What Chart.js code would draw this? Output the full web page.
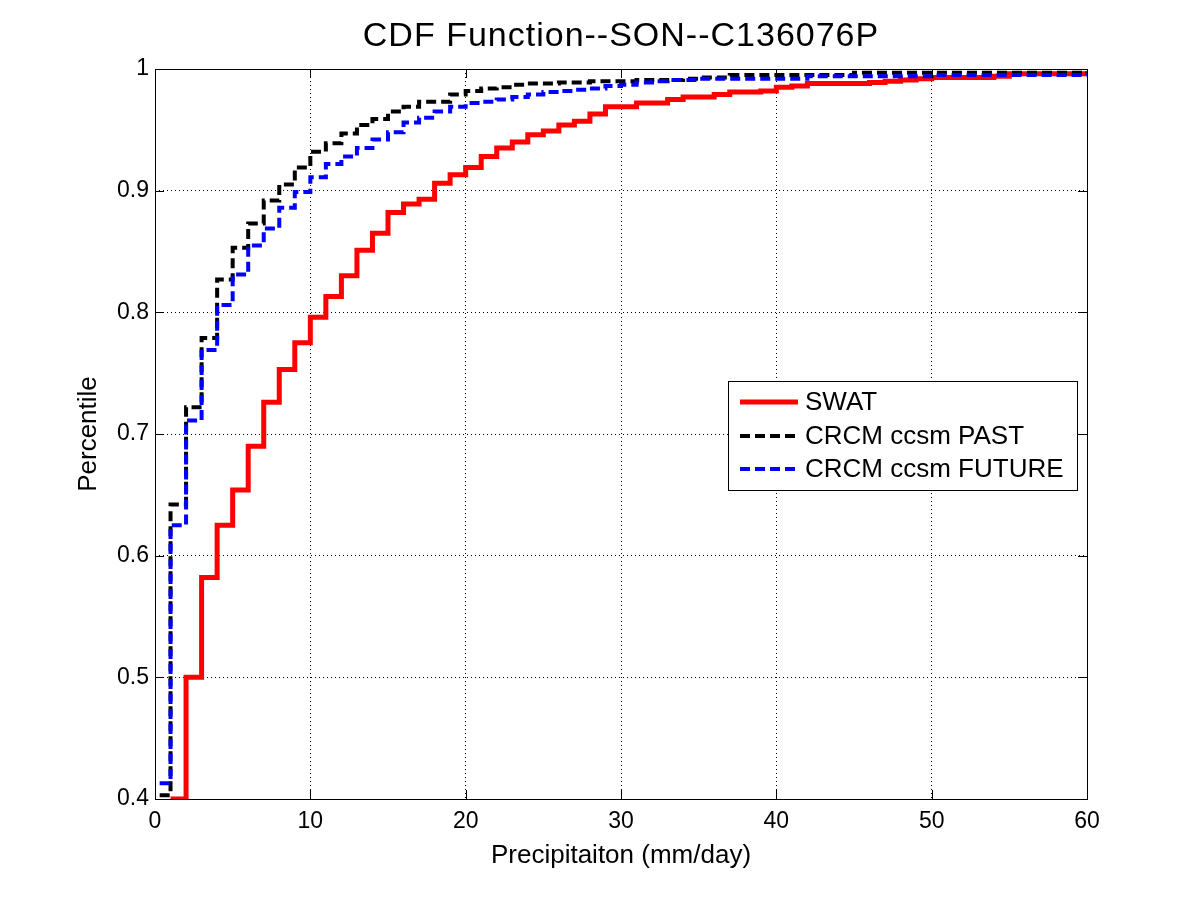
<!DOCTYPE html>
<html>
<head>
<meta charset="utf-8">
<title>CDF Function--SON--C136076P</title>
<script src="https://cdn.jsdelivr.net/npm/chart.js@4.4.0/dist/chart.umd.min.js"></script>
<style>
	html, body { margin: 0; padding: 0; background: #fff; }
	canvas { display: block; }
</style>
</head>
<body>
<canvas id="cdfChart" width="1200" height="900"></canvas>
<script>
// step values, each point = value from that x onward
var swatX = [1, 2, 3, 4, 5, 6, 7, 8, 9, 10, 11, 12, 13, 14, 15, 16, 17, 18, 19, 20, 21, 22, 23, 24, 25, 26, 27, 28, 29, 31, 33, 34, 36, 37, 39, 40, 41, 42, 46, 47, 48, 49, 50, 54, 55, 60];
var swatY = [0.400, 0.500, 0.582, 0.625, 0.654, 0.690, 0.726, 0.753, 0.775, 0.796, 0.813, 0.830, 0.851, 0.865, 0.882, 0.889, 0.893, 0.906, 0.913, 0.919, 0.928, 0.935, 0.940, 0.946, 0.949, 0.954, 0.957, 0.963, 0.969, 0.972, 0.975, 0.977, 0.979, 0.981, 0.982, 0.985, 0.986, 0.988, 0.989, 0.990, 0.991, 0.992, 0.993, 0.994, 0.996, 0.997];

var pastX = [0.3, 1, 2, 3, 4, 5, 6, 7, 8, 9, 10, 11, 12, 13, 14, 15, 16, 17, 19, 20, 21, 22, 23, 24, 26, 28, 31, 34, 35, 37, 45, 60];
var pastY = [0.403, 0.642, 0.722, 0.779, 0.827, 0.853, 0.873, 0.892, 0.905, 0.919, 0.932, 0.939, 0.947, 0.954, 0.959, 0.965, 0.969, 0.973, 0.979, 0.982, 0.984, 0.985, 0.987, 0.988, 0.989, 0.990, 0.991, 0.992, 0.993, 0.995, 0.997, 0.998];

var futureX = [0.3, 1, 2, 3, 4, 5, 6, 7, 8, 9, 10, 11, 12, 13, 14, 15, 16, 17, 18, 19, 20, 21, 22, 23, 24, 25, 26, 27, 28, 29, 30, 31, 32, 33, 35, 42, 50, 60];
var futureY = [0.413, 0.625, 0.711, 0.769, 0.806, 0.831, 0.855, 0.869, 0.886, 0.899, 0.911, 0.922, 0.928, 0.935, 0.942, 0.948, 0.956, 0.960, 0.965, 0.969, 0.972, 0.973, 0.975, 0.977, 0.979, 0.981, 0.982, 0.983, 0.984, 0.986, 0.987, 0.989, 0.990, 0.991, 0.992, 0.994, 0.995, 0.996];

var seriesNames = ['SWAT', 'CRCM ccsm PAST', 'CRCM ccsm FUTURE'];
var xTicks = [0, 10, 20, 30, 40, 50, 60];
var yTicks = [0.4, 0.5, 0.6, 0.7, 0.8, 0.9, 1];

var FONT = '"Liberation Sans", Arial, Helvetica, sans-serif';

function toPoints(xs, ys) {
	return xs.map(function(x, i) { return { x: x, y: ys[i] }; });
}

// title, axes box, inward ticks and the legend box (matlab style)
var matlabFrame = {
	id: 'matlabFrame',
	afterDraw: function(chart) {
		var ctx = chart.ctx;
		var area = chart.chartArea;
		var xs = chart.scales.x, ys = chart.scales.y;
		ctx.save();

		ctx.strokeStyle = '#000';
		ctx.lineWidth = 1;
		ctx.setLineDash([]);
		ctx.strokeRect(Math.round(area.left) + 0.5, Math.round(area.top) + 0.5,
			Math.round(area.right - area.left), Math.round(area.bottom - area.top));

		ctx.beginPath();
		xTicks.forEach(function(v) {
			var px = Math.round(xs.getPixelForValue(v)) + 0.5;
			ctx.moveTo(px, area.bottom); ctx.lineTo(px, area.bottom - 9);
			ctx.moveTo(px, area.top); ctx.lineTo(px, area.top + 9);
		});
		yTicks.forEach(function(v) {
			var py = Math.round(ys.getPixelForValue(v)) + 0.5;
			ctx.moveTo(area.left, py); ctx.lineTo(area.left + 9, py);
			ctx.moveTo(area.right, py); ctx.lineTo(area.right - 9, py);
		});
		ctx.stroke();

		// title
		ctx.fillStyle = '#000';
		ctx.font = '34px ' + FONT;
		ctx.textAlign = 'center';
		ctx.textBaseline = 'alphabetic';
		if ('letterSpacing' in ctx) ctx.letterSpacing = '1px';
		ctx.fillText('CDF Function--SON--C136076P', (area.left + area.right) / 2, 46);
		if ('letterSpacing' in ctx) ctx.letterSpacing = '0px';

		// legend
		var lx = 728, ly = 381, lw = 349, lh = 109;
		ctx.fillStyle = '#fff';
		ctx.fillRect(lx, ly, lw, lh);
		ctx.strokeStyle = '#000';
		ctx.lineWidth = 1;
		ctx.strokeRect(lx + 0.5, ly + 0.5, lw, lh);
		var rows = [402, 436, 469];
		chart.data.datasets.forEach(function(ds, i) {
			ctx.beginPath();
			ctx.strokeStyle = ds.borderColor;
			ctx.lineWidth = ds.borderWidth;
			ctx.setLineDash(ds.borderDash || []);
			ctx.moveTo(740, rows[i]);
			ctx.lineTo(798, rows[i]);
			ctx.stroke();
			ctx.setLineDash([]);
			ctx.fillStyle = '#000';
			ctx.font = '26px ' + FONT;
			ctx.textAlign = 'left';
			ctx.textBaseline = 'middle';
			ctx.fillText(ds.label, 805, rows[i] + 1);
		});
		ctx.restore();
	}
};

Chart.defaults.font.family = FONT;
Chart.defaults.color = '#000';

var cdfCanvas = document.getElementById('cdfChart').getContext('2d');
var cdfChart = new Chart(cdfCanvas, {
	type: 'line',
	data: {
		datasets: [{
			label: seriesNames[0],
			data: toPoints(swatX, swatY),
			borderColor: '#ff0000',
			borderWidth: 5,
			stepped: 'before',
			pointRadius: 0,
			fill: false,
			order: 3
		}, {
			label: seriesNames[1],
			data: toPoints(pastX, pastY),
			borderColor: '#000000',
			borderWidth: 4,
			borderDash: [10, 5],
			stepped: 'before',
			pointRadius: 0,
			fill: false,
			order: 2
		}, {
			label: seriesNames[2],
			data: toPoints(futureX, futureY),
			borderColor: '#0000ff',
			borderWidth: 4,
			borderDash: [10, 5],
			stepped: 'before',
			pointRadius: 0,
			fill: false,
			order: 1
		}]
	},
	options: {
		responsive: false,
		animation: false,
		devicePixelRatio: 1,
		layout: { padding: { top: 69, right: 113, left: 0, bottom: 0 } },
		plugins: {
			legend: { display: false },
			title: { display: false },
			tooltip: { enabled: false }
		},
		scales: {
			x: {
				type: 'linear',
				min: 0,
				max: 60,
				afterBuildTicks: function(scale) {
					scale.ticks = xTicks.map(function(v) { return { value: v }; });
				},
				afterFit: function(scale) { scale.height = 101; },
				ticks: {
					font: { size: 23 },
					padding: 9,
					maxRotation: 0,
					callback: function(v) { return String(v); }
				},
				grid: { color: '#000', lineWidth: 1, drawTicks: false },
				border: { display: false, dash: [1, 3] },
				title: {
					display: true,
					text: 'Precipitaiton (mm/day)',
					font: { size: 26 },
					padding: { top: 0, bottom: 29 }
				}
			},
			y: {
				type: 'linear',
				min: 0.4,
				max: 1,
				afterBuildTicks: function(scale) {
					scale.ticks = yTicks.map(function(v) { return { value: v }; });
				},
				afterFit: function(scale) { scale.width = 155; },
				ticks: {
					font: { size: 23 },
					padding: 6,
					callback: function(v) { return v === 1 ? '1' : v.toFixed(1); }
				},
				grid: { color: '#000', lineWidth: 1, drawTicks: false },
				border: { display: false, dash: [1, 3] },
				title: {
					display: true,
					text: 'Percentile',
					font: { size: 26 },
					padding: { top: 73, bottom: 0 }
				}
			}
		}
	},
	plugins: [matlabFrame]
});
</script>
</body>
</html>
